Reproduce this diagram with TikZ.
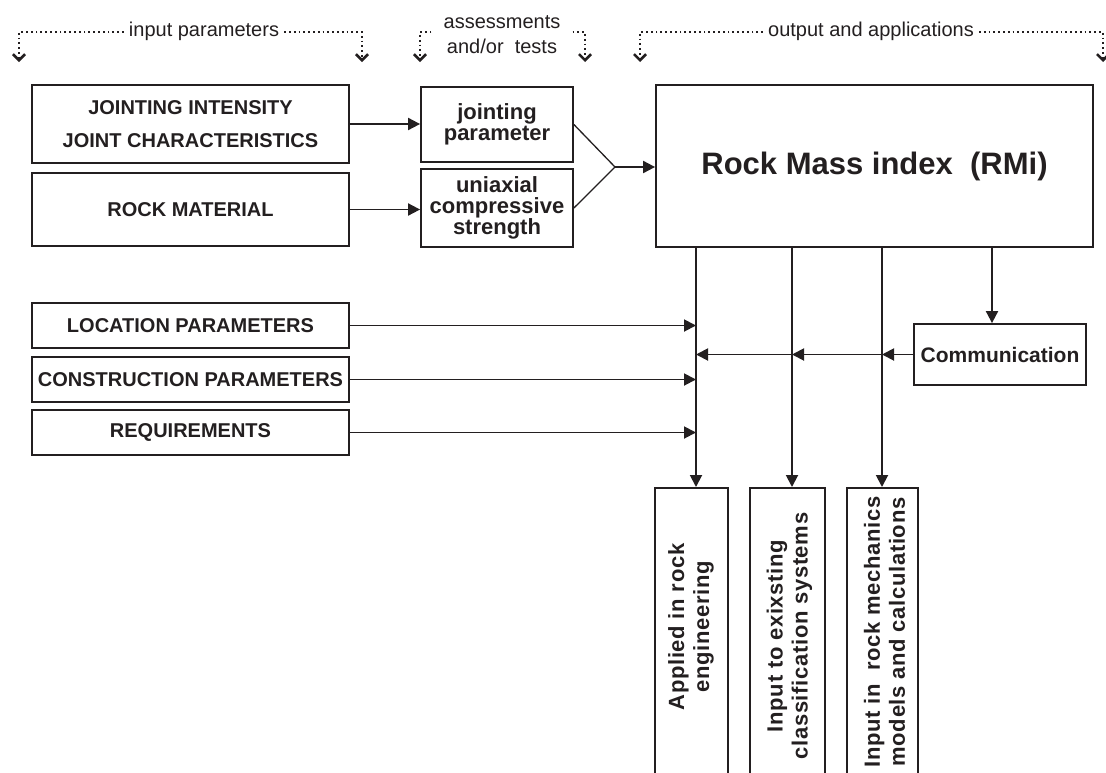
\documentclass[tikz,border=0pt]{standalone}
\usepackage{fontspec}
\setmainfont{Liberation Sans}
\newfontfamily\spacedfont[LetterSpace=3]{Liberation Sans}
\usetikzlibrary{arrows.meta}
\definecolor{ink}{HTML}{231F20}
\begin{document}
\begin{tikzpicture}[x=1pt,y=-1pt,
  box/.style={draw=ink,line width=1.8pt,inner sep=0pt,text=ink,align=center},
  boxfont/.style={font=\bfseries\fontsize{20}{33}\selectfont},
  smallfont/.style={font=\bfseries\fontsize{22}{21}\selectfont},
  arr/.style={draw=ink,line width=1.9pt,-{Triangle[length=12pt,width=12pt]}},
  thinline/.style={draw=ink,line width=1.3pt},
  dotbr/.style={draw=ink,line width=1.9pt,dash pattern=on 1.8pt off 3pt,-{Straight Barb[length=6pt,width=12pt,line width=2.6pt]}},
  lbl/.style={text=ink,inner xsep=5pt,font=\fontsize{20}{25}\selectfont},
  vtext/.style={rotate=90,text=ink,align=center,font=\spacedfont\bfseries\fontsize{22}{25}\selectfont}
]
\useasboundingbox (0,0) rectangle (1106,772);

% top brackets
\coordinate (ybr) at (0,32);
\node[lbl,anchor=base] (tin) at (204,36) {input parameters};
\coordinate (tinL) at (19,62);
\coordinate (tinR) at (362,62);
\draw[dotbr] (tin.west |- ybr) -- (tinL |- ybr) -- (tinL);
\draw[dotbr] (tin.east |- ybr) -- (tinR |- ybr) -- (tinR);

\node[lbl,align=center,inner xsep=12pt] (tas) at (502,35) {assessments\\and/or\ \ tests};
\coordinate (tasL) at (420,62);
\coordinate (tasR) at (585,62);
\draw[dotbr] (tas.west |- ybr) -- (tasL |- ybr) -- (tasL);
\draw[dotbr] (tas.east |- ybr) -- (tasR |- ybr) -- (tasR);

\node[lbl,anchor=base] (tout) at (871,36) {output and applications};
\coordinate (toutL) at (640,62);
\coordinate (toutR) at (1103,62);
\draw[dotbr] (tout.west |- ybr) -- (toutL |- ybr) -- (toutL);
\draw[dotbr] (tout.east |- ybr) -- (toutR |- ybr) -- (toutR);

% input boxes
\node[box,boxfont,minimum width=317pt,minimum height=78pt] (ji) at (190.5,124) {JOINTING INTENSITY\\JOINT CHARACTERISTICS};
\node[box,boxfont,minimum width=317pt,minimum height=73pt] (rm) at (190.5,209.5) {ROCK MATERIAL};
\node[box,smallfont,minimum width=152pt,minimum height=75pt] (jp) at (497,124.5) {jointing\\parameter};
\node[box,smallfont,minimum width=152pt,minimum height=78pt] (ucs) at (497,208) {uniaxial\\compressive\\strength};
\node[box,font=\bfseries\fontsize{31}{36}\selectfont,minimum width=437pt,minimum height=162pt] (rmi) at (874.5,166) {Rock Mass index\ \ (RMi)};
\node[box,font=\bfseries\fontsize{21}{25}\selectfont,minimum width=172pt,minimum height=61pt] (comm) at (1000,354.5) {Communication};
\node[box,boxfont,minimum width=317pt,minimum height=45pt] (loc) at (190.5,325.5) {LOCATION PARAMETERS};
\node[box,boxfont,minimum width=317pt,minimum height=45pt] (con) at (190.5,379.5) {CONSTRUCTION PARAMETERS};
\node[box,boxfont,minimum width=317pt,minimum height=45pt] (req) at (190.5,432.5) {REQUIREMENTS};

% output boxes (open at the bottom, beyond the page)
\node[box,minimum width=73pt,minimum height=330pt,anchor=north] (b1) at (691.5,487) {};
\node[box,minimum width=75pt,minimum height=330pt,anchor=north] (b2) at (787.5,487) {};
\node[box,minimum width=71pt,minimum height=330pt,anchor=north] (b3) at (882.5,487) {};
\node[vtext] (b1t) at (691,627) {Applied in rock\\engineering};
\node[vtext] (b2t) at (789.5,636) {Input to exixsting\\classification systems};
\node[vtext] (b3t) at (884.5,632) {Input in\ \ rock mechanics\\models and calculations};

% connectors
\draw[arr] (ji.east) -- (ji.east -| jp.west);
\draw[arr] (rm.east) -- (rm.east -| ucs.west);
\coordinate (jn) at (615,167);
\draw[thinline] (jp.east) -- (jn) -- (ucs.east);
\draw[arr] (jn) -- (jn -| rmi.west);

\coordinate (v1) at (696,247);
\coordinate (v2) at (792,247);
\coordinate (v3) at (882,247);
\coordinate (v4) at (992,247);
\draw[arr] (v1) -- (v1 |- b1.north);
\draw[arr] (v2) -- (v2 |- b2.north);
\draw[arr] (v3) -- (v3 |- b3.north);
\draw[arr] (v4) -- (v4 |- comm.north);

\draw[arr] (comm.west) -- (comm.west -| v3);
\draw[arr] (comm.west -| v3) -- (comm.west -| v2);
\draw[arr] (comm.west -| v2) -- (comm.west -| v1);

\draw[arr] (loc.east) -- (loc.east -| v1);
\draw[arr] (con.east) -- (con.east -| v1);
\draw[arr] (req.east) -- (req.east -| v1);
\end{tikzpicture}
\end{document}
